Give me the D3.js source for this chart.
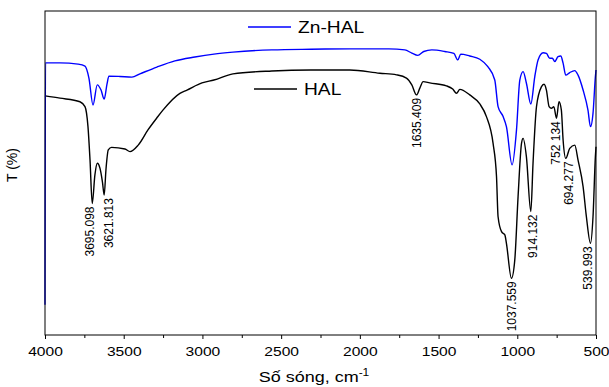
<!DOCTYPE html>
<html>
<head>
<meta charset="utf-8">
<script src="https://cdn.jsdelivr.net/npm/d3@7"></script>
<style>
  body { margin: 0; background: #fff; }
  text { font-family: "Liberation Sans", Arial, sans-serif; fill: #000; }
</style>
</head>
<body>
<svg id="chart" width="609" height="387"></svg>
<script>
// ******* DATA *******
// HAL spectrum (wavenumber, transmittance in arbitrary %)
const wnHAL = [4000, 3905, 3778, 3746, 3727, 3714, 3700, 3683, 3668, 3651, 3635, 3624, 3613, 3598, 3577,
    3492, 3460, 3408, 3346, 3291, 3251, 3143, 3098, 3003, 2927, 2806, 2559, 2311, 2064, 1873, 1767, 1704,
    1670, 1640, 1619, 1598, 1556, 1450, 1410, 1386, 1365, 1302, 1238, 1196, 1154, 1132, 1122, 1100, 1079,
    1069, 1037, 1016, 995, 973, 963, 942, 914, 900, 878, 847, 830, 815, 798, 783, 768, 751, 735, 720, 709,
    692, 667, 635, 614, 582, 561, 535, 519, 504, 500];
const tHAL = [73.8, 73.1, 72.0, 70.5, 64.3, 54.0, 40.6, 49.4, 53.0, 51.5, 47.2, 43.2, 50.9, 57.1, 57.9,
    57.4, 56.6, 58.6, 63.3, 66.9, 69.4, 74.6, 75.6, 77.8, 78.7, 80.6, 81.5, 81.8, 81.8, 80.8, 80.3, 79.3,
    77.2, 74.1, 76.2, 78.2, 77.8, 76.9, 75.9, 74.6, 75.8, 74.1, 71.3, 67.4, 59.2, 48.9, 36.5, 31.9, 30.9,
    28.3, 17.5, 23.1, 42.7, 59.2, 60.7, 55.0, 38.1, 53.0, 70.5, 76.6, 77.4, 75.6, 70.5, 70.0, 70.5, 66.9,
    72.0, 69.4, 60.2, 54.5, 57.6, 58.6, 54.0, 45.8, 36.5, 28.3, 36.5, 55.0, 58.1];

// Zn-HAL spectrum
const wnZn = [4000, 3997, 3905, 3790, 3746, 3721, 3695, 3668, 3644, 3624, 3606, 3594, 3524, 3448, 3397,
    3289, 3175, 3048, 2927, 2806, 2559, 2311, 2064, 1816, 1714, 1670, 1632, 1594, 1543, 1460, 1403, 1378,
    1359, 1302, 1238, 1187, 1143, 1122, 1090, 1069, 1033, 1005, 984, 963, 942, 914, 889, 868, 836, 815,
    794, 777, 762, 741, 724, 709, 692, 667, 635, 614, 582, 551, 535, 519, 504, 500];
const tZn = [9.3, 84.0, 84.0, 83.6, 83.0, 79.3, 71.0, 77.2, 75.6, 72.8, 77.5, 79.9, 79.8, 79.6, 80.6,
    82.7, 84.6, 85.8, 86.7, 87.3, 88.0, 88.2, 88.3, 88.3, 88.0, 87.0, 86.3, 87.5, 88.0, 87.5, 86.9, 84.9,
    86.7, 86.1, 85.1, 82.8, 78.7, 70.5, 67.4, 64.3, 52.5, 63.3, 78.7, 81.3, 77.7, 71.3, 79.7, 84.9, 87.1,
    86.9, 85.4, 85.4, 84.4, 85.9, 86.1, 83.9, 80.2, 81.0, 81.6, 80.2, 75.6, 69.4, 64.3, 68.4, 79.7, 81.8];

// peak annotations on the HAL curve
const peakWn = [3695.098, 3621.813, 1635.409, 1037.559, 914.132, 752.134, 694.277, 539.993];
const peakLabels = ["3695.098", "3621.813", "1635.409", "1037.559", "914.132", "752 134", "694.277", "539.993"];

const xTicks = [4000, 3500, 3000, 2500, 2000, 1500, 1000, 500];
const xMinorTicks = [3750, 3250, 2750, 2250, 1750, 1250, 750];

// ******* LAYOUT *******
const margin = { left: 45, right: 13, top: 11, bottom: 52 };
const width = 609, height = 387;
const STRETCH = 1.2; // horizontal text in the reference is drawn wide
// small sideways nudges so neighbouring peak labels don't collide
const labelNudge = [-3, 4, 0, 1, 2, 0, 4, -2];

const svg = d3.select("#chart");

const x = d3.scaleLinear()
    .domain([4000, 500])
    .range([margin.left, width - margin.right]);

const y = d3.scaleLinear()
    .domain([0, 100])
    .range([height - margin.bottom, margin.top]);

// ******* CURVES *******
const line = d3.line()
    .x(d => x(d[0]))
    .y(d => y(d[1]))
    .curve(d3.curveMonotoneX);

const halData = wnHAL.map((w, i) => [w, tHAL[i]]);
const znData = wnZn.map((w, i) => [w, tZn[i]]);

svg.append("path")
    .datum(halData)
    .attr("d", line)
    .attr("fill", "none")
    .attr("stroke", "#000")
    .attr("stroke-width", 1.4);

svg.append("path")
    .datum(znData)
    .attr("d", line)
    .attr("fill", "none")
    .attr("stroke", "#0000ff")
    .attr("stroke-width", 1.4);

// ******* FRAME + AXES *******
svg.append("rect")
    .attr("x", x(4000))
    .attr("y", y(100))
    .attr("width", x(500) - x(4000))
    .attr("height", y(0) - y(100))
    .attr("fill", "none")
    .attr("stroke", "#000")
    .attr("stroke-width", 1);

// minor ticks
svg.append("g")
    .attr("transform", `translate(0,${y(0)})`)
    .call(d3.axisBottom(x).tickValues(xMinorTicks).tickSize(3).tickSizeOuter(0).tickFormat(""))
    .call(g => g.select(".domain").remove());

const xAxis = svg.append("g")
    .attr("transform", `translate(0,${y(0)})`)
    .call(d3.axisBottom(x).tickValues(xTicks).tickSize(4).tickSizeOuter(0).tickPadding(8).tickFormat(d3.format("d")));
xAxis.select(".domain").remove();
xAxis.selectAll("text")
    .attr("font-size", 13)
    .attr("font-family", "Liberation Sans, Arial, sans-serif")
    .attr("transform", `scale(${STRETCH},1)`);

// x-axis title
const xTitle = svg.append("text")
    .attr("text-anchor", "middle")
    .attr("font-size", 15)
    .attr("transform", `translate(314,382) scale(${STRETCH},1)`);
xTitle.append("tspan").text("Số sóng, cm");
xTitle.append("tspan").attr("font-size", 10).attr("dy", -6).text("-1");

// y-axis title
svg.append("text")
    .attr("text-anchor", "middle")
    .attr("font-size", 14)
    .attr("transform", "translate(17,165) rotate(-90)")
    .text("T (%)");

// ******* PEAK LABELS *******
svg.append("g")
    .selectAll("text")
    .data(peakWn)
    .join("text")
    .attr("font-size", 12)
    .attr("text-anchor", "end")
    .attr("dominant-baseline", "central")
    .attr("transform", (d, i) => {
        // lowest point of HAL near the labelled wavenumber
        let best = halData[0];
        halData.forEach(p => { if (Math.abs(p[0] - d) < Math.abs(best[0] - d)) best = p; });
        return `translate(${x(d) + labelNudge[i]},${y(best[1]) + 3}) rotate(-90)`;
    })
    .text((d, i) => peakLabels[i]);

// ******* LEGEND *******
const legend = [
    { name: "Zn-HAL", color: "#0000ff", x1: 248, x2: 291, y: 27 },
    { name: "HAL", color: "#000", x1: 254, x2: 297, y: 89 }
];
legend.forEach(l => {
    svg.append("line")
        .attr("x1", l.x1).attr("x2", l.x2)
        .attr("y1", l.y).attr("y2", l.y)
        .attr("stroke", l.color)
        .attr("stroke-width", 1.4);
    svg.append("text")
        .attr("font-size", 16)
        .attr("transform", `translate(${l.x2 + 7},${l.y + 6}) scale(${STRETCH},1)`)
        .text(l.name);
});
</script>
</body>
</html>
